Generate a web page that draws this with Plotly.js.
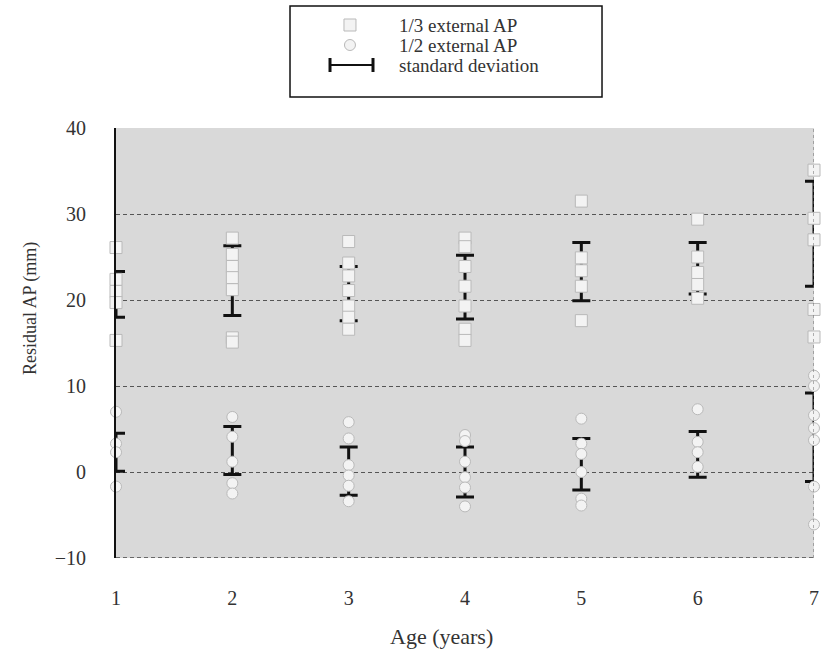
<!DOCTYPE html>
<html>
<head>
<meta charset="utf-8">
<script src="https://cdn.plot.ly/plotly-3.0.1.min.js"></script>
<style>html,body{margin:0;padding:0;background:#fff;}</style>
</head>
<body>
<div id="chart" style="width:823px;height:655px;"></div>
<script>
// Age categories and tick labels
const ages = [1, 2, 3, 4, 5, 6, 7];
const ageTickText = ['1', '2', '3', '4', '5', '6', '7'];
const yTickVals = [-10, 0, 10, 20, 30, 40];

// 1/3 external AP: individual points
const sqAge = [1,1,1,1,1, 2,2,2,2,2,2,2, 3,3,3,3,3,3,3, 4,4,4,4,4,4,4, 5,5,5,5,5, 6,6,6,6,6, 7,7,7,7,7];
const sqVal = [26.1,22.4,21.0,19.7,15.3,
               27.2,25.3,23.9,22.6,21.2,15.6,15.1,
               26.8,24.3,22.8,21.1,19.3,18.0,16.6,
               27.2,26.2,23.9,21.6,19.3,16.6,15.3,
               31.5,24.9,23.4,21.6,17.6,
               29.4,25.0,23.2,21.8,20.2,
               35.1,29.5,27.0,18.9,15.7];

// 1/2 external AP: individual points
const ciAge = [1,1,1,1, 2,2,2,2,2, 3,3,3,3,3,3, 4,4,4,4,4,4, 5,5,5,5,5,5, 6,6,6,6, 7,7,7,7,7,7,7];
const ciVal = [7.0,3.3,2.3,-1.7,
               6.4,4.1,1.2,-1.3,-2.5,
               5.8,3.9,0.8,-0.4,-1.6,-3.4,
               4.3,3.6,1.2,-0.6,-1.8,-4.0,
               6.2,3.3,2.1,0.0,-3.1,-3.9,
               7.3,3.5,2.3,0.6,
               11.2,10.0,6.6,5.1,3.7,-1.7,-6.1];

// Means and standard deviations
const sqMean = [20.65, 22.25, 20.75, 21.5, 23.3, 23.7, 27.7];
const sqSD   = [2.65, 4.05, 3.15, 3.7, 3.4, 3.0, 6.1];
const ciMean = [2.3, 2.5, 0.1, 0.0, 0.9, 2.05, 4.05];
const ciSD   = [2.2, 2.8, 2.8, 2.9, 3.0, 2.65, 5.15];

const legendLabels = ['1/3 external AP', '1/2 external AP', 'standard deviation'];

const FONT = 'Liberation Serif';
const markerFill = '#f3f3f3';
const markerLine = '#b9b9b9';
const gridDash = '4px,3px';

function sdTrace(mean, sd) {
  return {
    type: 'scatter', mode: 'markers', x: ages, y: mean,
    marker: {opacity: 0, size: 1},
    error_y: {type: 'data', array: sd, visible: true, color: '#111', thickness: 3, width: 9},
    cliponaxis: false, showlegend: false, hoverinfo: 'skip'
  };
}

const data = [
  sdTrace(sqMean, sqSD),
  sdTrace(ciMean, ciSD),
  {
    type: 'scatter', mode: 'markers', x: sqAge, y: sqVal, name: legendLabels[0],
    marker: {symbol: 'square', size: 12, color: markerFill, line: {color: markerLine, width: 1}},
    cliponaxis: false, showlegend: false
  },
  {
    type: 'scatter', mode: 'markers', x: ciAge, y: ciVal, name: legendLabels[1],
    marker: {symbol: 'circle', size: 11, color: markerFill, line: {color: markerLine, width: 1}},
    cliponaxis: false, showlegend: false
  }
];

// legend layout helpers (paper coordinates)
const lgX = 0.3352, lgTextX = 0.4026;
const lgY = [1.2395, 1.1930, 1.1465];

function lgText(i) {
  return {text: legendLabels[i], xref: 'paper', yref: 'paper', x: lgTextX, y: lgY[i],
          xanchor: 'left', yanchor: 'middle', showarrow: false,
          font: {family: FONT, size: 19, color: '#333'}};
}

const layout = {
  width: 823, height: 655, autosize: false,
  margin: {l: 116, r: 9, t: 128, b: 97},
  paper_bgcolor: '#ffffff',
  plot_bgcolor: '#d9d9d9',
  font: {family: FONT, color: '#333'},
  showlegend: false,
  xaxis: {
    range: [1, 7], tickvals: ages, ticktext: ageTickText,
    showgrid: false, zeroline: false, showline: false, ticks: '',
    ticklabelstandoff: 26, tickfont: {family: FONT, size: 20, color: '#333'}
  },
  yaxis: {
    range: [-10, 40], tickvals: yTickVals,
    showgrid: true, gridcolor: '#555', griddash: gridDash, gridwidth: 1,
    zeroline: false, showline: true, linecolor: '#111', linewidth: 2, ticks: '',
    ticklabelstandoff: 24, tickfont: {family: FONT, size: 20, color: '#333'}
  },
  shapes: [
    {type: 'line', xref: 'x', yref: 'y', x0: 7, x1: 7, y0: -10, y1: 40,
     line: {color: '#666', width: 1, dash: 'dot'}},
    {type: 'line', xref: 'x', yref: 'y', x0: 1, x1: 7, y0: -10, y1: -10,
     line: {color: '#444', width: 1.5, dash: gridDash}},
    // legend box
    {type: 'rect', xref: 'paper', yref: 'paper', x0: 0.2493, x1: 0.6963, y0: 1.0721, y1: 1.2837,
     line: {color: '#111', width: 1.5}, fillcolor: 'rgba(0,0,0,0)'},
    // legend square
    {type: 'rect', xref: 'paper', yref: 'paper', xsizemode: 'pixel', ysizemode: 'pixel',
     xanchor: lgX, yanchor: lgY[0], x0: -6, x1: 6, y0: -6, y1: 6,
     line: {color: markerLine, width: 1}, fillcolor: markerFill},
    // legend circle
    {type: 'circle', xref: 'paper', yref: 'paper', xsizemode: 'pixel', ysizemode: 'pixel',
     xanchor: lgX, yanchor: lgY[1], x0: -5.5, x1: 5.5, y0: -5.5, y1: 5.5,
     line: {color: markerLine, width: 1}, fillcolor: markerFill},
    // legend SD glyph
    {type: 'line', xref: 'paper', yref: 'paper', x0: 0.3066, x1: 0.3682, y0: lgY[2], y1: lgY[2],
     line: {color: '#111', width: 2}},
    {type: 'line', xref: 'paper', yref: 'paper', ysizemode: 'pixel', yanchor: lgY[2],
     x0: 0.3066, x1: 0.3066, y0: -7, y1: 7, line: {color: '#111', width: 3}},
    {type: 'line', xref: 'paper', yref: 'paper', ysizemode: 'pixel', yanchor: lgY[2],
     x0: 0.3682, x1: 0.3682, y0: -7, y1: 7, line: {color: '#111', width: 3}}
  ],
  annotations: [
    {text: 'Residual AP (mm)', xref: 'paper', yref: 'paper', x: -0.1232, y: 0.579,
     xanchor: 'center', yanchor: 'middle',
     textangle: -90, showarrow: false, font: {family: FONT, size: 18, color: '#333'}},
    {text: 'Age (years)', xref: 'paper', yref: 'paper', x: 0.467, y: -0.1814,
     xanchor: 'center', yanchor: 'middle',
     showarrow: false, font: {family: FONT, size: 22, color: '#333'}},
    lgText(0), lgText(1), lgText(2)
  ]
};

Plotly.newPlot('chart', data, layout, {displayModeBar: false, staticPlot: true});
</script>
</body>
</html>
